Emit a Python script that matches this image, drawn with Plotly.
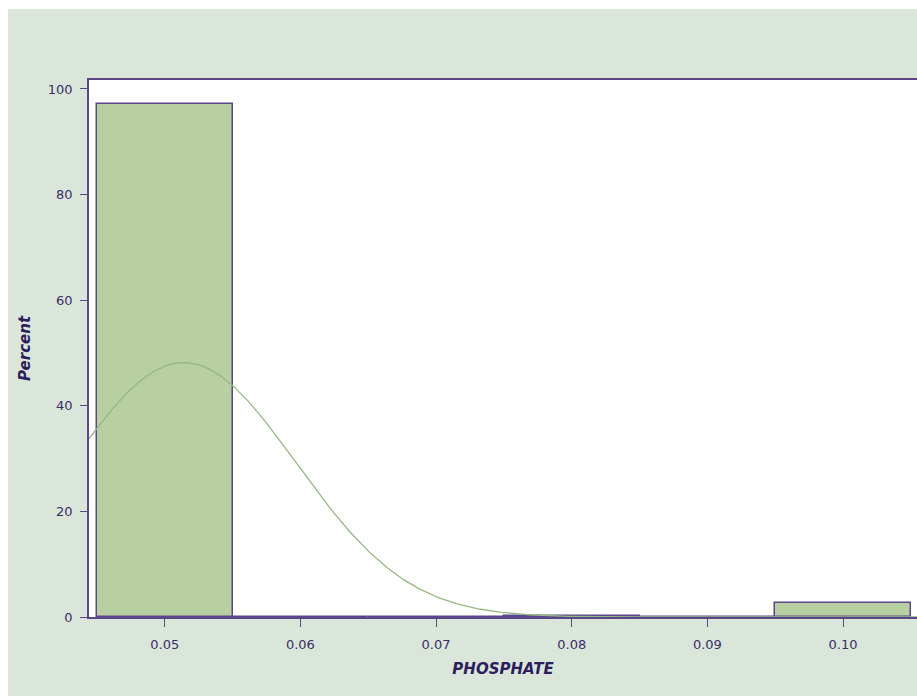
import numpy as np
import plotly.graph_objects as go

# ---- data ----
bin_centers = [0.05, 0.06, 0.07, 0.08, 0.09, 0.10]
percents = [97.1, 0.0, 0.0, 0.2, 0.0, 2.7]
bin_width = 0.01
x_tick_vals = [0.05, 0.06, 0.07, 0.08, 0.09, 0.10]
x_tick_text = ["0.05", "0.06", "0.07", "0.08", "0.09", "0.10"]
y_tick_vals = [0, 20, 40, 60, 80, 100]
# fitted normal curve parameters
norm_mu = 0.0514
norm_sigma = 0.00828

BG = "#dbe6da"
FRAME = "#5a4688"
TEXT = "#3a2d68"
BAR_FILL = "#b8cfa2"
CURVE = "#94b882"

x_lo, x_hi = 0.04442, 0.10545
xs = np.linspace(x_lo, x_hi, 400)
ys = 100 * bin_width * np.exp(-0.5 * ((xs - norm_mu) / norm_sigma) ** 2) / (norm_sigma * np.sqrt(2 * np.pi))

fig = go.Figure()
fig.add_trace(go.Bar(
    x=bin_centers, y=percents, width=[bin_width] * len(bin_centers),
    marker=dict(color=BAR_FILL, line=dict(color=FRAME, width=1.5)),
    hoverinfo="x+y", showlegend=False,
))
fig.add_trace(go.Scatter(
    x=xs, y=ys, mode="lines", line=dict(color=CURVE, width=1.3),
    showlegend=False, hoverinfo="skip",
))

fig.update_layout(
    width=909, height=687,
    margin=dict(l=81, r=0, t=71, b=79),
    paper_bgcolor=BG, plot_bgcolor="white",
    font=dict(family="DejaVu Sans", size=13, color=TEXT),
    bargap=0,
    xaxis=dict(
        range=[x_lo, x_hi], tickvals=x_tick_vals, ticktext=x_tick_text,
        showline=True, linecolor=FRAME, linewidth=1.5, mirror=True,
        ticks="outside", ticklen=8, tickwidth=1.3, tickcolor=FRAME,
        showgrid=False, zeroline=False, ticklabelstandoff=7,
        title=dict(text="<b><i>PHOSPHATE</i></b>", font=dict(size=15, color="#2c1d5c"), standoff=12),
    ),
    yaxis=dict(
        range=[0, 101.7], tickvals=y_tick_vals,
        showline=True, linecolor=FRAME, linewidth=1.5,
        ticks="outside", ticklen=7, tickwidth=1.3, tickcolor=FRAME,
        showgrid=False, zeroline=False, ticklabelstandoff=5,
        title=dict(text="<b><i>Percent</i></b>", font=dict(size=15, color="#2c1d5c"), standoff=14),
    ),
)

fig.write_html(
    "out.html",
    post_script="document.body.style.margin='9px 0 0 8px';document.body.style.overflow='hidden';",
)
